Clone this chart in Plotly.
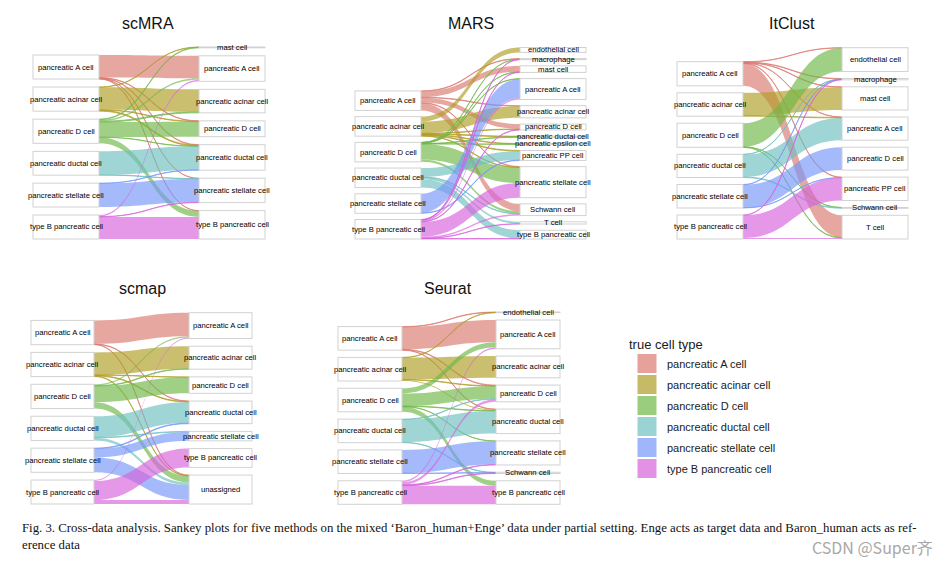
import plotly.graph_objects as go

FIG_W, FIG_H = 952, 561

# ---------------- data ----------------
true_types = ["pancreatic A cell", "pancreatic acinar cell", "pancreatic D cell",
              "pancreatic ductal cell", "pancreatic stellate cell", "type B pancreatic cell"]
legend_colors = ["#E6A19B", "#C6BA66", "#9ACD7E", "#99D3D3", "#A0B6FA", "#E291E5"]
link_colors = ["rgba(219,121,112,0.66)", "rgba(174,156,36,0.66)", "rgba(111,184,71,0.66)",
               "rgba(109,192,192,0.66)", "rgba(119,151,248,0.66)", "rgba(214,98,218,0.66)"]

# scMRA
scmra_targets = ["mast cell", "pancreatic A cell", "pancreatic acinar cell", "pancreatic D cell",
                 "pancreatic ductal cell", "pancreatic stellate cell", "type B pancreatic cell"]
scmra_source = [0, 0, 0, 0, 0, 1, 1, 1, 1, 2, 2, 2, 2, 2, 2, 3, 3, 4, 4, 5, 5, 5]
scmra_target = [1, 3, 4, 5, 6, 2, 3, 4, 0, 1, 2, 3, 6, 0, 4, 4, 5, 5, 4, 1, 6, 5]
scmra_value = [22.6, 0.4, 0.5, 0.3, 0.3, 22.6, 0.5, 0.9, 0.2, 1.4, 1.0, 15.0, 6.0, 0.6, 0.3,
               23.6, 0.3, 23.6, 0.3, 1.6, 22.2, 0.3]

# MARS
mars_targets = ["endothelial cell", "macrophage", "mast cell", "pancreatic A cell",
                "pancreatic acinar cell", "pancreatic D cell", "pancreatic ductal cell",
                "pancreatic epsilon cell", "pancreatic PP cell", "pancreatic stellate cell",
                "Schwann cell", "T cell", "type B pancreatic cell"]
mars_source = [0, 0, 0, 0, 0, 0,
               1, 1, 1, 1, 1, 1, 1,
               2, 2, 2, 2, 2, 2, 2,
               3, 3, 3, 3,
               4, 4,
               5, 5, 5, 5, 5, 5, 5, 5]
mars_target = [2, 5, 10, 4, 9, 1,
               0, 4, 7, 6, 5, 9, 8,
               9, 10, 7, 6, 2, 3, 1,
               8, 12, 11, 10,
               3, 8,
               9, 10, 11, 12, 3, 5, 1, 2]
mars_value = [6.0, 5.0, 7.5, 0.5, 0.5, 0.5,
              5.0, 12.0, 0.6, 0.7, 0.5, 0.5, 0.7,
              15.8, 2.5, 0.2, 0.5, 0.3, 0.4, 0.3,
              9.0, 8.5, 2.0, 0.5,
              19.5, 0.5,
              15.0, 1.5, 0.3, 0.5, 1.5, 0.5, 0.3, 0.4]

# ItClust
itclust_targets = ["endothelial cell", "macrophage", "mast cell", "pancreatic A cell",
                   "pancreatic D cell", "pancreatic PP cell", "Schwann cell", "T cell"]
itclust_source = [0, 0, 0, 0, 0, 0, 1, 1, 2, 2, 2, 3, 3, 3, 4, 4, 4, 5, 5, 5]
itclust_target = [7, 1, 2, 0, 5, 3, 2, 3, 0, 7, 6, 3, 6, 1, 4, 1, 5, 5, 7, 1]
itclust_value = [22.0, 0.4, 0.4, 0.3, 0.4, 0.3, 22.5, 0.6, 23.2, 0.4, 0.2, 22.0, 0.6, 0.3,
                 22.6, 0.3, 0.3, 22.4, 1.0, 0.3]

# scmap
scmap_targets = ["pancreatic A cell", "pancreatic acinar cell", "pancreatic D cell",
                 "pancreatic ductal cell", "pancreatic stellate cell", "type B pancreatic cell",
                 "unassigned"]
scmap_source = [0, 0, 0, 1, 1, 1, 1, 2, 2, 2, 2, 3, 3, 3, 4, 4, 4, 5, 5, 5]
scmap_target = [0, 6, 3, 1, 3, 6, 2, 0, 1, 2, 6, 3, 6, 4, 4, 6, 3, 5, 0, 6]
scmap_value = [22.8, 0.4, 0.4, 21.8, 0.7, 0.6, 0.4, 1.3, 0.5, 15.6, 6.2, 20.3, 2.6, 0.6,
               8.6, 14.3, 0.6, 18.3, 1.0, 4.0]

# Seurat
seurat_targets = ["endothelial cell", "pancreatic A cell", "pancreatic acinar cell",
                  "pancreatic D cell", "pancreatic ductal cell", "pancreatic stellate cell",
                  "Schwann cell", "type B pancreatic cell"]
seurat_source = [0, 0, 0, 0, 1, 1, 1, 1, 2, 2, 2, 2, 2, 3, 3, 3, 4, 4, 5, 5, 5, 5, 5]
seurat_target = [1, 3, 0, 4, 2, 4, 3, 0, 1, 3, 7, 4, 5, 4, 3, 6, 5, 6, 7, 1, 3, 5, 6]
seurat_value = [22.0, 0.6, 0.4, 0.4, 21.6, 1.0, 0.5, 0.3, 5.2, 12.4, 5.0, 0.5, 0.3,
                22.5, 0.5, 0.4, 23.1, 0.3, 18.4, 1.4, 2.6, 0.5, 0.5]

caption_line1 = ("Fig. 3. Cross-data analysis. Sankey plots for five methods on the mixed "
                 "\u2018Baron_human+Enge\u2019 data under partial setting. Enge acts as target data "
                 "and Baron_human acts as ref-")
caption_line2 = "erence data"
watermark = "CSDN @Super\u9f50"

# ---------------- layout geometry (pixels) ----------------
panels = [
    dict(title="scMRA", targets=scmra_targets, source=scmra_source, target=scmra_target,
         value=scmra_value, x0=33, x1=265, top=47, bottom=239, gap=8, thick=66, tx=148, ty=23),
    dict(title="MARS", targets=mars_targets, source=mars_source, target=mars_target,
         value=mars_value, x0=355, x1=586, top=47.5, bottom=239, gap=6.2, thick=66, tx=471, ty=23),
    dict(title="ItClust", targets=itclust_targets, source=itclust_source, target=itclust_target,
         value=itclust_value, x0=677, x1=908, top=47.7, bottom=239, gap=7, thick=66, tx=792, ty=23),
    dict(title="scmap", targets=scmap_targets, source=scmap_source, target=scmap_target,
         value=scmap_value, x0=31, x1=252, top=312.7, bottom=504, gap=7.7, thick=63, tx=142, ty=288),
    dict(title="Seurat", targets=seurat_targets, source=seurat_source, target=seurat_target,
         value=seurat_value, x0=338, x1=560, top=312, bottom=504.3, gap=7.3, thick=64, tx=448, ty=288),
]

fig = go.Figure()
annotations = []
label_font = dict(family="Liberation Sans", size=7.7, color="#000000")

for p in panels:
    nl, nr = len(true_types), len(p["targets"])
    wpx = p["x1"] - p["x0"]
    hpx = p["bottom"] - p["top"]
    left_tot = [0.0] * nl
    right_tot = [0.0] * nr
    for s, t, v in zip(p["source"], p["target"], p["value"]):
        left_tot[s] += v
        right_tot[t] += v
    total = sum(p["value"])
    pad = p["gap"]
    # same scale rule plotly's sankey layout uses
    ky = min((hpx - (n - 1) * pad) / total for n in (nl, nr))

    def stack(tots):
        span = sum(tots) * ky + (len(tots) - 1) * pad
        y = hpx - span
        cs = []
        for tv in tots:
            h = tv * ky
            cs.append(y + h / 2)
            y += h + pad
        return cs

    cy = stack(left_tot) + stack(right_tot)
    nx = [p["thick"] / 2 / wpx] * nl + [1 - p["thick"] / 2 / wpx] * nr
    ny = [c / hpx for c in cy]

    fig.add_trace(go.Sankey(
        domain=dict(x=[p["x0"] / FIG_W, p["x1"] / FIG_W],
                    y=[1 - p["bottom"] / FIG_H, 1 - p["top"] / FIG_H]),
        arrangement="fixed",
        hoverinfo="none",
        node=dict(label=[""] * (nl + nr), x=nx, y=ny, pad=pad, thickness=p["thick"],
                  color="white", line=dict(color="#d2d2d2", width=1)),
        link=dict(source=p["source"], target=[t + nl for t in p["target"]], value=p["value"],
                  color=[link_colors[s] for s in p["source"]], line=dict(width=0)),
    ))

    names = true_types + p["targets"]
    for i, name in enumerate(names):
        annotations.append(dict(
            x=(p["x0"] + nx[i] * wpx) / FIG_W, y=1 - (p["top"] + cy[i]) / FIG_H,
            xref="paper", yref="paper", text=name, showarrow=False,
            xanchor="center", yanchor="middle", font=label_font))
    annotations.append(dict(
        x=p["tx"] / FIG_W, y=1 - p["ty"] / FIG_H, xref="paper", yref="paper",
        text=p["title"], showarrow=False, xanchor="center", yanchor="middle",
        font=dict(family="Liberation Sans", size=16, color="#111111")))

# legend entries
for name, col in zip(true_types, legend_colors):
    fig.add_trace(go.Scatter(
        x=[None], y=[None], mode="markers", name=name, legendgroup=name,
        marker=dict(symbol="square", size=16, color=col, line=dict(color=col, width=3)),
        hoverinfo="skip"))

annotations.append(dict(x=20 / FIG_W, y=1 - 528 / FIG_H, xref="paper", yref="paper",
                        text=caption_line1, showarrow=False, xanchor="left", yanchor="middle",
                        font=dict(family="Liberation Serif", size=12.8, color="#111111")))
annotations.append(dict(x=20 / FIG_W, y=1 - 545 / FIG_H, xref="paper", yref="paper",
                        text=caption_line2, showarrow=False, xanchor="left", yanchor="middle",
                        font=dict(family="Liberation Serif", size=12.8, color="#111111")))
annotations.append(dict(x=935 / FIG_W, y=1 - 547 / FIG_H, xref="paper", yref="paper",
                        text=watermark, showarrow=False, xanchor="right", yanchor="middle",
                        font=dict(family="Noto Sans CJK SC", size=16, color="#a8a8a8")))

fig.update_layout(
    width=FIG_W, height=FIG_H, autosize=False,
    margin=dict(l=0, r=0, t=0, b=0),
    paper_bgcolor="white", plot_bgcolor="white",
    xaxis=dict(visible=False), yaxis=dict(visible=False),
    showlegend=True,
    legend=dict(x=627 / FIG_W, y=1 - 332 / FIG_H, xanchor="left", yanchor="top",
                title=dict(text="true cell type",
                           font=dict(family="Liberation Sans", size=13, color="#1a1a1a")),
                font=dict(family="Liberation Sans", size=11, color="#1a1a1a"),
                tracegroupgap=2, traceorder="grouped", itemsizing="trace",
                itemwidth=30, bgcolor="rgba(0,0,0,0)"),
    annotations=annotations,
)

fig.write_html("out.html", config={"displayModeBar": False},
               post_script="document.body.style.margin='0px';")
